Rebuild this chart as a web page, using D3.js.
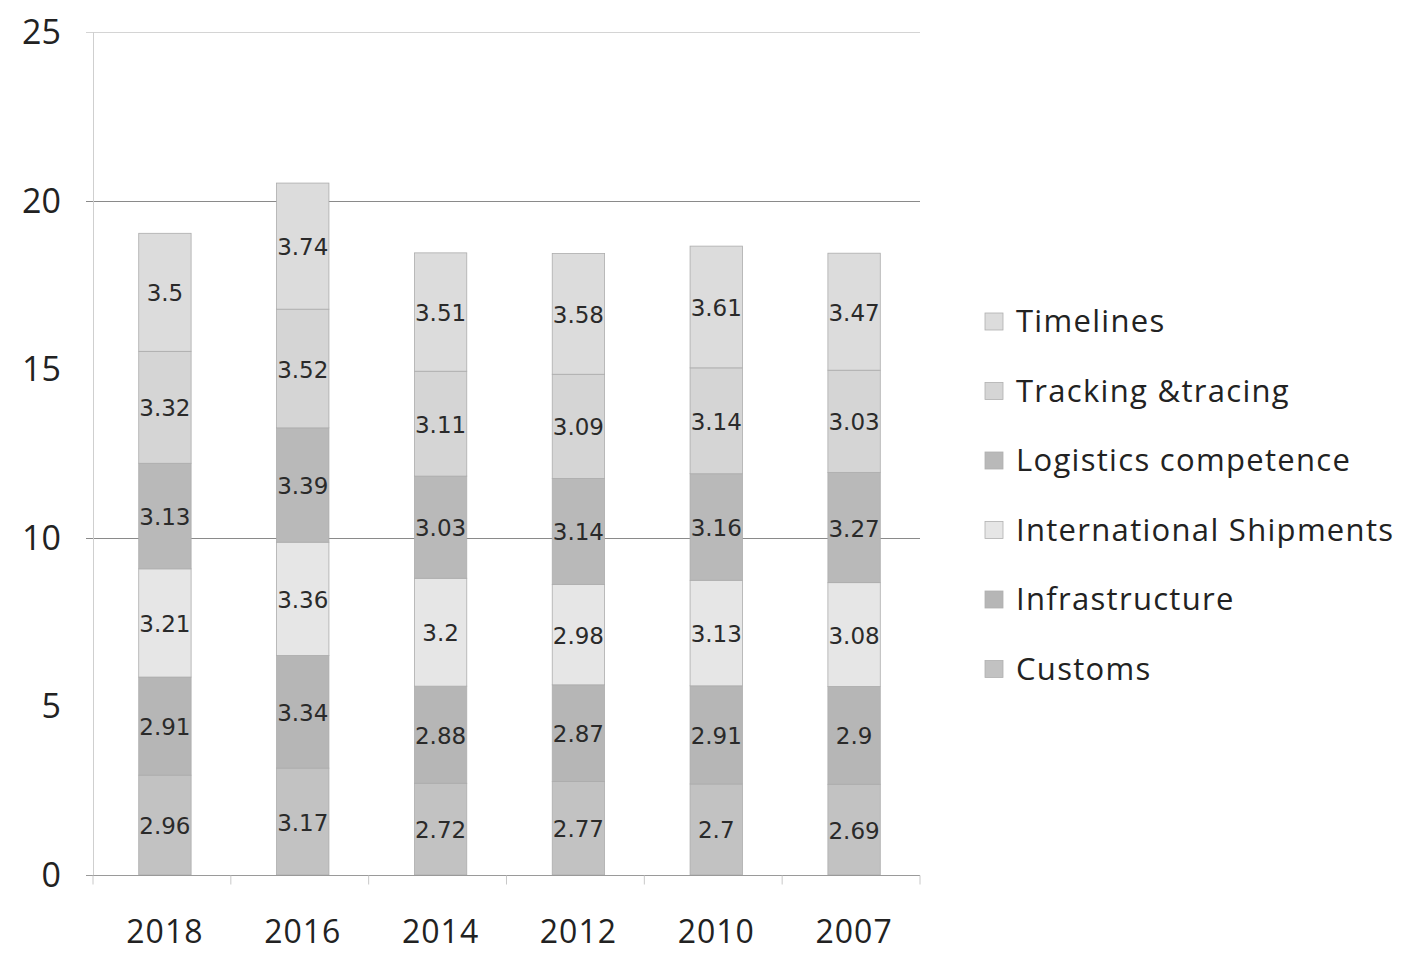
<!DOCTYPE html>
<html>
<head>
<meta charset="utf-8">
<script src="https://cdn.jsdelivr.net/npm/d3@7"></script>
<style>
  body { margin: 0; background: #fff; }
  svg { display: block; }
</style>
</head>
<body>
<svg id="chart" width="1402" height="953"></svg>
<script>
// years along the x axis, left to right
const years = ["2018", "2016", "2014", "2012", "2010", "2007"];
// stack order bottom -> top
const seriesNames = ["Customs", "Infrastructure", "International Shipments", "Logistics competence", "Tracking &tracing", "Timelines"];
const customs = [2.96, 3.17, 2.72, 2.77, 2.7, 2.69];
const infrastructure = [2.91, 3.34, 2.88, 2.87, 2.91, 2.9];
const shipments = [3.21, 3.36, 3.2, 2.98, 3.13, 3.08];
const logistics = [3.13, 3.39, 3.03, 3.14, 3.16, 3.27];
const tracking = [3.32, 3.52, 3.11, 3.09, 3.14, 3.03];
const timelines = [3.5, 3.74, 3.51, 3.58, 3.61, 3.47];
const yTicks = [0, 5, 10, 15, 20, 25];

const colors = ["#c2c2c2", "#b6b6b6", "#e6e6e6", "#b9b9b9", "#d5d5d5", "#dcdcdc"];

const svg = d3.select("#chart");
const margin = { left: 93, right: 482, top: 32, bottom: 78 };
const width = 1402, height = 953;

// build rows for d3.stack
const seriesValues = [customs, infrastructure, shipments, logistics, tracking, timelines];
const rows = years.map(function(y, i) {
  const r = { year: y };
  seriesNames.forEach(function(s, j) { r[s] = seriesValues[j][i]; });
  return r;
});
const stacked = d3.stack().keys(seriesNames)(rows);

// bars sit a few px right of the band centre in the original
const x = d3.scaleBand()
  .domain(years)
  .range([margin.left + 3, width - margin.right + 3])
  .paddingInner(0.62)
  .paddingOuter(0.31);

const y = d3.scaleLinear()
  .domain([0, 25])
  .range([height - margin.bottom, margin.top]);

// gridlines (only 10, 20 are darker; 25 is the light top line)
const grid = svg.append("g");
yTicks.filter(function(t) { return t === 10 || t === 20; }).forEach(function(t) {
  grid.append("line")
    .attr("x1", margin.left - 7).attr("x2", width - margin.right)
    .attr("y1", Math.round(y(t)) + 0.5).attr("y2", Math.round(y(t)) + 0.5)
    .attr("stroke", "#8a8a8a").attr("stroke-width", 1.2);
});
grid.append("line")
  .attr("x1", margin.left - 7).attr("x2", width - margin.right)
  .attr("y1", Math.round(y(25)) + 0.5).attr("y2", Math.round(y(25)) + 0.5)
  .attr("stroke", "#d4d4d4");
// left axis line
grid.append("line")
  .attr("x1", margin.left + 0.5).attr("x2", margin.left + 0.5)
  .attr("y1", y(25)).attr("y2", y(0))
  .attr("stroke", "#cfcfcf");

// bars
const layer = svg.append("g").selectAll("g")
  .data(stacked)
  .enter().append("g")
  .attr("fill", function(d, i) { return colors[i]; });

layer.selectAll("rect")
  .data(function(d) { return d; })
  .enter().append("rect")
  .attr("x", function(d) { return x(d.data.year); })
  .attr("width", x.bandwidth())
  .attr("y", function(d) { return y(d[1]); })
  .attr("height", function(d) { return y(d[0]) - y(d[1]); })
  .attr("stroke", "#acacac")
  .attr("stroke-width", 0.8);

// value labels
layer.selectAll("text")
  .data(function(d) { return d; })
  .enter().append("text")
  .attr("x", function(d) { return x(d.data.year) + x.bandwidth() / 2; })
  .attr("y", function(d) { return (y(d[0]) + y(d[1])) / 2 + 9; })
  .attr("text-anchor", "middle")
  .attr("font-family", "DejaVu Sans, sans-serif")
  .attr("font-size", 23)
  .attr("fill", "#2a2a2a")
  .text(function(d) { return +(d[1] - d[0]).toFixed(2); });

// x axis
const xAxis = svg.append("g")
  .attr("transform", "translate(0," + (Math.round(y(0)) + 0.5) + ")");
xAxis.append("line")
  .attr("x1", margin.left - 7).attr("x2", width - margin.right)
  .attr("stroke", "#9a9a9a").attr("stroke-width", 1.2);
d3.range(years.length + 1).forEach(function(i) {
  const tx = margin.left + i * (width - margin.left - margin.right) / years.length;
  xAxis.append("line")
    .attr("x1", tx).attr("x2", tx).attr("y1", 0).attr("y2", 9)
    .attr("stroke", "#c8c8c8");
});
xAxis.selectAll("text.year")
  .data(years)
  .enter().append("text")
  .attr("class", "year")
  .attr("x", function(d) { return x(d) + x.bandwidth() / 2; })
  .attr("y", 67)
  .attr("text-anchor", "middle")
  .attr("font-family", "Open Sans, sans-serif")
  .attr("font-size", 32)
  .attr("letter-spacing", 1)
  .attr("fill", "#222")
  .text(function(d) { return d; });

// y tick labels
svg.append("g").selectAll("text")
  .data(yTicks)
  .enter().append("text")
  .attr("x", 61)
  .attr("y", function(d) { return y(d) + 12; })
  .attr("text-anchor", "end")
  .attr("font-family", "Open Sans, sans-serif")
  .attr("font-size", 34)
  .attr("fill", "#222")
  .text(function(d) { return d; });

// legend, top item is the top of the stack
const legendItems = seriesNames.slice().reverse();
const legendColors = colors.slice().reverse();
const legend = svg.append("g").selectAll("g")
  .data(legendItems)
  .enter().append("g")
  .attr("transform", function(d, i) { return "translate(985," + (321 + i * 69.5) + ")"; });
legend.append("rect")
  .attr("x", 0).attr("y", -8).attr("width", 18).attr("height", 17)
  .attr("fill", function(d, i) { return legendColors[i]; })
  .attr("stroke", "#b0b0b0").attr("stroke-width", 0.8);
legend.append("text")
  .attr("x", 31)
  .attr("y", 11)
  .attr("font-family", "Open Sans, sans-serif")
  .attr("font-size", 31)
  .attr("letter-spacing", 1.3)
  .attr("fill", "#222")
  .text(function(d) { return d; });
</script>
</body>
</html>
